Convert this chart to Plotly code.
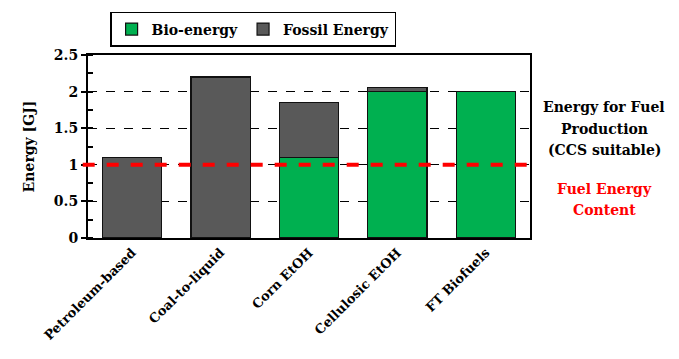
import plotly.graph_objects as go

categories = ["Petroleum-based", "Coal-to-liquid", "Corn EtOH", "Cellulosic EtOH", "FT Biofuels"]
bio_energy = [0.0, 0.0, 1.1, 2.0, 2.0]
fossil_energy = [1.1, 2.2, 0.75, 0.06, 0.0]
fuel_energy_content = 1.0
y_ticks = [0, 0.5, 1, 1.5, 2, 2.5]
y_tick_labels = ["0", "0.5", "1", "1.5", "2", "2.5"]
production_note = ["Energy for Fuel", "Production", "(CCS suitable)"]
content_note = ["Fuel Energy", "Content"]

FONT = "DejaVu Serif"
GREEN = "#00B050"
GRAY = "#595959"


def bold(s):
    return f"<b>{s}</b>"


fig = go.Figure()
fig.add_trace(go.Bar(
    x=categories, y=bio_energy, name=bold("Bio-energy"),
    marker=dict(color=GREEN, line=dict(color="#111111", width=1.2)),
    width=0.67, hoverinfo="skip",
))
fig.add_trace(go.Bar(
    x=categories, y=fossil_energy, name=bold("Fossil Energy"),
    marker=dict(color=GRAY, line=dict(color="#111111", width=1.2)),
    width=0.67, hoverinfo="skip",
))

# fuel energy content reference line
fig.add_shape(type="line", xref="paper", yref="y",
              x0=-0.012, x1=1.012, y0=fuel_energy_content, y1=fuel_energy_content,
              line=dict(color="#FF0000", width=4, dash="dash"), layer="above")

# side notes, one annotation per line for wider line spacing
LINE_STEP = 0.118
for i, line in enumerate(production_note):
    fig.add_annotation(xref="paper", yref="paper", x=1.168, y=0.715 - i * LINE_STEP,
                       text=bold(line), showarrow=False,
                       xanchor="center", yanchor="middle",
                       font=dict(family=FONT, size=14, color="black"))
for i, line in enumerate(content_note):
    fig.add_annotation(xref="paper", yref="paper", x=1.168, y=0.269 - i * LINE_STEP,
                       text=bold(line), showarrow=False,
                       xanchor="center", yanchor="middle",
                       font=dict(family=FONT, size=14, color="#FF0000"))

fig.update_layout(
    width=679, height=359,
    margin=dict(l=88, r=149, t=52, b=121),
    barmode="stack",
    plot_bgcolor="white", paper_bgcolor="white",
    font=dict(family=FONT, color="black"),
    showlegend=True,
    hovermode=False,
    legend=dict(orientation="h", x=0.05, y=1.235, xanchor="left", yanchor="top",
                bordercolor="black", borderwidth=1.5, bgcolor="white",
                font=dict(family=FONT, size=14, color="black"),
                traceorder="normal"),
)
fig.update_xaxes(
    range=[-0.5, 4.5], tickangle=-45, showline=True, linecolor="black",
    linewidth=2, mirror=True, ticks="", automargin=False,
    tickvals=categories, ticktext=[bold(c) for c in categories],
    tickfont=dict(family=FONT, size=13, color="black"),
)
fig.update_yaxes(
    range=[0, 2.5], tickvals=y_ticks, ticktext=[bold(t) for t in y_tick_labels],
    ticks="outside", ticklen=5, tickwidth=1.5, tickcolor="black",
    minor=dict(dtick=0.25, ticks="inside", ticklen=5, tickwidth=1.5,
               tickcolor="black", showgrid=False),
    showgrid=True, gridcolor="black", gridwidth=1, griddash="dash",
    showline=True, linecolor="black", linewidth=2, mirror=True,
    zeroline=False, automargin=False,
    tickfont=dict(family=FONT, size=14, color="black"),
    title=dict(text=bold("Energy [GJ]"), font=dict(family=FONT, size=14, color="black"),
               standoff=16),
)

fig.write_html("out.html")
